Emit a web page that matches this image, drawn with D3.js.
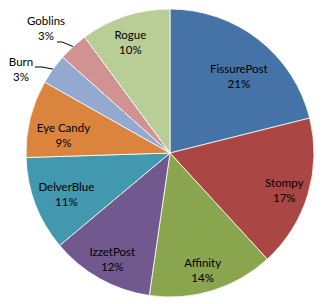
<!doctype html>
<html>
<head>
<meta charset="utf-8"/>
<script src="https://d3js.org/d3.v7.min.js"></script>
<style>
  body { margin: 0; background: #fff; }
  text { font-family: Lato, "Liberation Sans", sans-serif; font-size: 11.5px; fill: #000; }
</style>
</head>
<body>
<div id="chart"></div>
<script>
// deck names and their share (percent), clockwise from 12 o'clock
var decks  = ["FissurePost", "Stompy", "Affinity", "IzzetPost", "DelverBlue", "Eye Candy", "Burn", "Goblins", "Rogue"];
var shares = [21.1, 17.1, 14.1, 11.6, 10.6, 8.7, 3.4, 3.3, 10.1];
var colors = ["#4572A7", "#AA4643", "#89A54E", "#71588F", "#4198AF", "#DB843D", "#93A9CF", "#D19392", "#B9CD96"];

var W = 330, H = 304;
var cx = 170, cy = 153, R = 144;

var svg = d3.select("#chart").append("svg")
    .attr("width", W).attr("height", H);

var g = svg.append("g").attr("transform", "translate(" + cx + "," + cy + ")");

var data = decks.map(function(d, i) { return {name: d, value: shares[i], color: colors[i]}; });

var pie = d3.pie().sort(null).value(function(d) { return d.value; });
var arcs = pie(data);
var arc = d3.arc().innerRadius(0).outerRadius(R);

g.selectAll("path").data(arcs).enter().append("path")
    .attr("d", arc)
    .attr("fill", function(d) { return d.data.color; })
    .attr("stroke", "#fff")
    .attr("stroke-width", 0.8);

var total = d3.sum(shares);
function pct(d) { return Math.round(d.value / total * 100) + "%"; }

// inside labels: [fraction of radius, angle nudge in degrees] (best-fit placement)
var inside = {"FissurePost": [0.715, 4], "Stompy": [0.833, 1], "Affinity": [0.843, 1.5],
              "IzzetPost": [0.836, -0.5], "DelverBlue": [0.773, -0.5], "Eye Candy": [0.75, -4.5],
              "Rogue": [0.818, -1.5]};
// small slices get labels outside, with a leader line
var outside = {"Burn": {tx: -149, ty: -84, elbow: [-128, -86], end: [-135, -86]},
               "Goblins": {tx: -124, ty: -125, elbow: [-108, -111], end: [-113, -111]}};

function mid(d) { return (d.startAngle + d.endAngle) / 2; }

arcs.forEach(function(d) {
  var a = mid(d), x, y;
  var p = inside[d.data.name];
  if (p) {
    var r = p[0] * R, aa = a + p[1] * Math.PI / 180;
    x = r * Math.sin(aa); y = -r * Math.cos(aa);
  } else {
    var o = outside[d.data.name];
    x = o.tx; y = o.ty;
    var p0 = [R * Math.sin(a), -R * Math.cos(a)];
    g.append("polyline")
      .attr("points", [p0, o.elbow, o.end].map(function(q) { return q.join(","); }).join(" "))
      .attr("fill", "none").attr("stroke", "#000").attr("stroke-width", 1);
  }
  var t = g.append("text").attr("text-anchor", "middle")
      .attr("transform", "translate(" + x + "," + y + ")");
  t.append("tspan").attr("x", 0).attr("y", -3).text(d.data.name);
  t.append("tspan").attr("x", 0).attr("y", 12).text(pct(d.data));
});
</script>
</body>
</html>
